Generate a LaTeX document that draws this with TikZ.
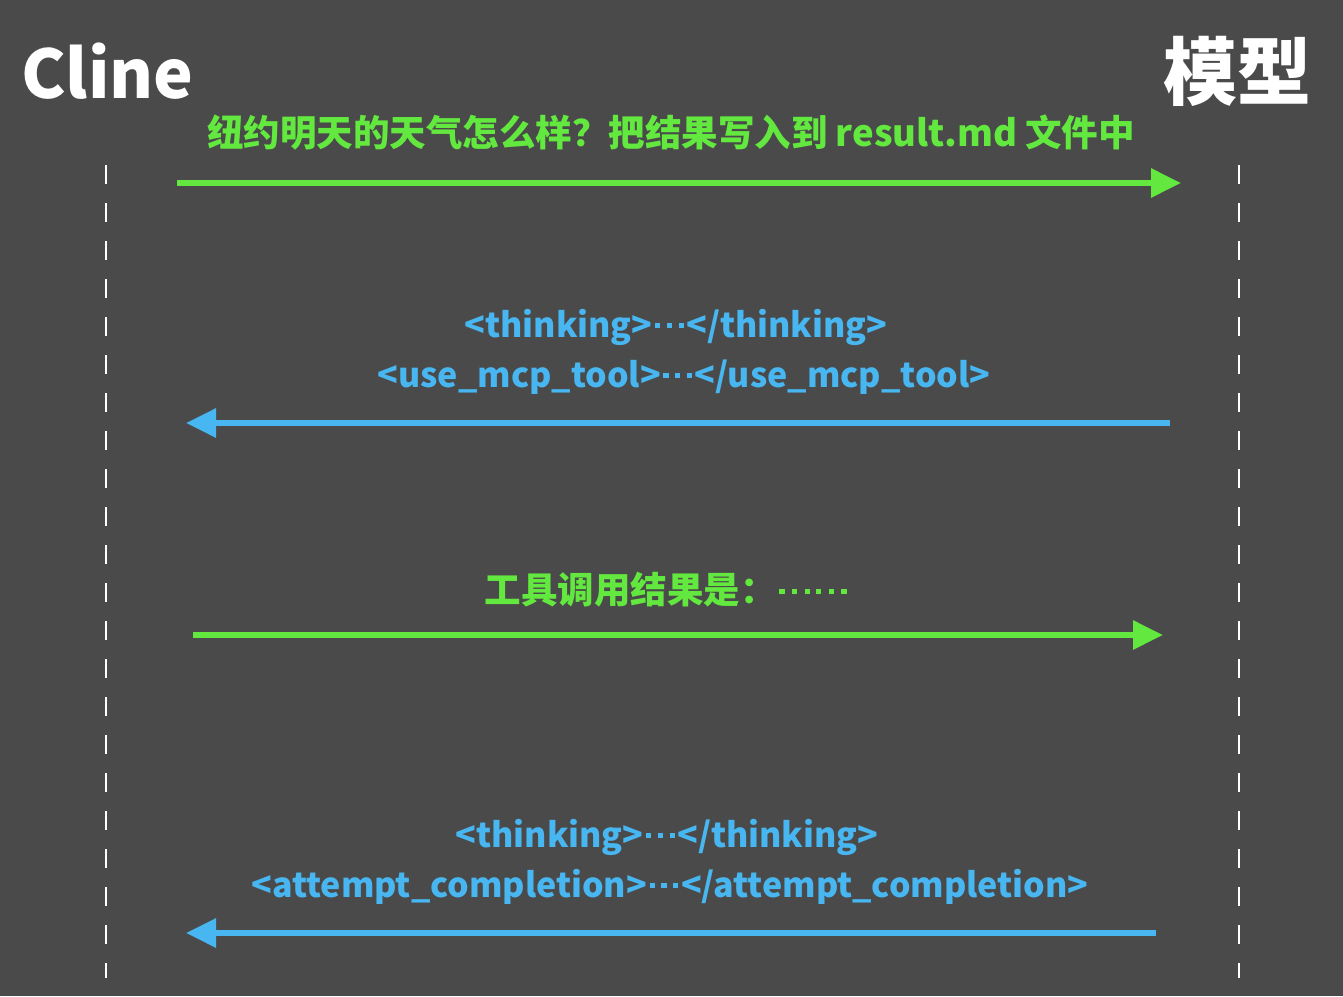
\documentclass[tikz,border=0pt]{standalone}
\usepackage{fontspec}
\setmainfont{Noto Sans CJK SC}
\usetikzlibrary{arrows.meta}
\definecolor{bg}{RGB}{74,74,74}
\definecolor{grn}{RGB}{98,232,62}
\definecolor{blu}{RGB}{72,182,240}
\newcommand{\zdot}{\rule[0.27em]{0.15em}{0.15em}}
\newcommand{\zhdots}{\makebox[1em][c]{\zdot\hspace{0.2em}\zdot\hspace{0.2em}\zdot}}
\tikzset{
  lifeline/.style={draw=white, line width=2.6pt, dash pattern=on 19pt off 19pt},
  msg/.style={line width=6pt, -{Triangle[length=30pt,width=28pt]}},
  gmsg/.style={msg, draw=grn, fill=grn},
  bmsg/.style={msg, draw=blu, fill=blu},
  gtext/.style={text=grn, font=\fontsize{36.5}{40}\selectfont\bfseries, inner sep=0pt},
  btext/.style={text=blu, font=\fontsize{34}{40}\selectfont\bfseries, inner sep=0pt},
  head/.style={text=white, inner sep=0pt}
}
\begin{document}
\begin{tikzpicture}[x=1pt,y=-1pt]
\fill[bg] (0,0) rectangle (1343,996);
\useasboundingbox (0,0) rectangle (1343,996);
\node[head, font=\fontsize{67}{80}\selectfont\bfseries, anchor=west] (cline) at (21,71) {Cline};
\node[head, font=\fontsize{74}{80}\selectfont\bfseries, anchor=east] (model) at (1312,71) {模型};
\coordinate (l0) at (106,165);
\coordinate (l1) at (106,978);
\coordinate (r0) at (1239,165);
\coordinate (r1) at (1239,978);
\draw[lifeline] (l0) -- (l1);
\draw[lifeline] (r0) -- (r1);
% message 1
\node[gtext] (t1) at (671,133) {纽约明天的天气怎么样？把结果写入到 result.md 文件中};
\coordinate (a1s) at (177,183);
\coordinate (a1e) at (1181,183);
\draw[gmsg] (a1s) -- (a1e);
% message 2
\node[btext] (t2a) at (676,327) {<thinking>\zhdots</thinking>};
\node[btext] (t2b) at (684,377) {<use\_mcp\_tool>\zhdots</use\_mcp\_tool>};
\coordinate (a2s) at (1170,423);
\coordinate (a2e) at (186,423);
\draw[bmsg] (a2s) -- (a2e);
% message 3
\node[gtext] (t3) at (667,590) {工具调用结果是：\zhdots\zhdots};
\coordinate (a3s) at (193,635);
\coordinate (a3e) at (1163,635);
\draw[gmsg] (a3s) -- (a3e);
% message 4
\node[btext] (t4a) at (667,837) {<thinking>\zhdots</thinking>};
\node[btext] (t4b) at (670,887) {<attempt\_completion>\zhdots</attempt\_completion>};
\coordinate (a4s) at (1156,933);
\coordinate (a4e) at (186,933);
\draw[bmsg] (a4s) -- (a4e);
\end{tikzpicture}
\end{document}
